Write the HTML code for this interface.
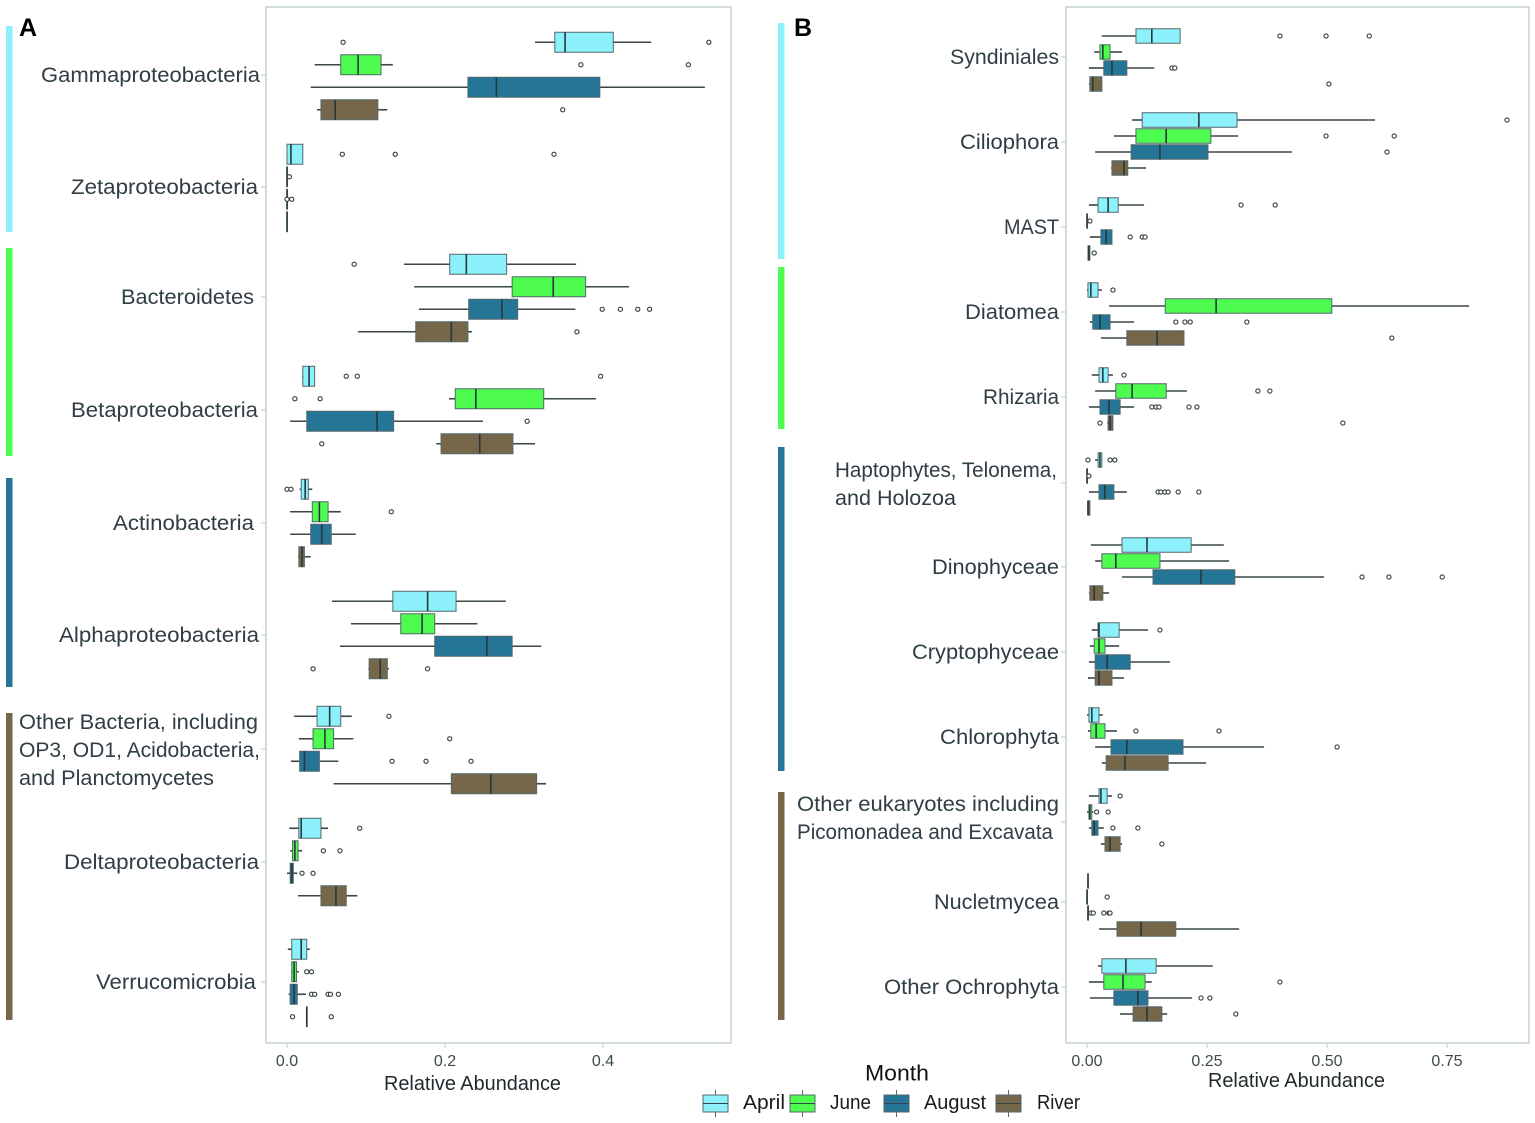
<!DOCTYPE html>
<html lang="en">
<head>
<meta charset="utf-8">
<title>Relative abundance by month</title>
<style>
html,body{margin:0;padding:0;background:#fff;width:1535px;height:1123px;overflow:hidden}
svg{display:block;font-family:"Liberation Sans",sans-serif}
</style>
</head>
<body>
<svg id="chart" xmlns="http://www.w3.org/2000/svg" width="1535" height="1123" viewBox="0 0 1535 1123"></svg>
<script>
// ---------- Data: each row is [whiskerLow, q1, median, q3, whiskerHigh, [outliers]]
const months = ['April', 'June', 'August', 'River'];
const panelACategories = [['Gammaproteobacteria'], ['Zetaproteobacteria'], ['Bacteroidetes'], ['Betaproteobacteria'], ['Actinobacteria'], ['Alphaproteobacteria'], ['Other Bacteria, including', 'OP3, OD1, Acidobacteria,', 'and Planctomycetes'], ['Deltaproteobacteria'], ['Verrucomicrobia']];
const panelBCategories = [['Syndiniales'], ['Ciliophora'], ['MAST'], ['Diatomea'], ['Rhizaria'], ['Haptophytes, Telonema,', 'and Holozoa'], ['Dinophyceae'], ['Cryptophyceae'], ['Chlorophyta'], ['Other eukaryotes including', 'Picomonadea and Excavata'], ['Nucletmycea'], ['Other Ochrophyta']];
const panelATicks = ['0.0', '0.2', '0.4'];
const panelBTicks = ['0.00', '0.25', '0.50', '0.75'];

const gammaproteobacteria = [[.314,.339,.352,.413,.461,[.071,.534]],[.035,.068,.090,.119,.134,[.372,.508]],[.030,.229,.265,.396,.529,[]],[.038,.043,.061,.115,.127,[.349]]];
const zetaproteobacteria = [[.0,.0,.005,.020,.020,[.070,.137,.338]],[0,0,0,0,0,[.003]],[0,0,0,0,0,[.0,.006]],[0,0,0,0,0,[]]];
const bacteroidetes = [[.148,.206,.227,.278,.366,[.085]],[.161,.285,.337,.378,.433,[]],[.167,.230,.272,.292,.365,[.399,.422,.444,.459]],[.090,.163,.208,.229,.234,[.367]]];
const betaproteobacteria = [[.019,.020,.028,.035,.035,[.075,.089,.397]],[.205,.213,.239,.325,.391,[.010,.042]],[.004,.025,.114,.135,.248,[.304]],[.189,.195,.244,.286,.314,[.044]]];
const actinobacteria = [[.016,.018,.023,.027,.032,[.0,.005]],[.004,.032,.041,.052,.068,[.132]],[.004,.030,.044,.056,.087,[]],[.014,.015,.019,.022,.030,[]]];
const alphaproteobacteria = [[.057,.134,.178,.214,.277,[]],[.081,.144,.171,.187,.241,[]],[.067,.187,.253,.285,.322,[]],[.103,.104,.118,.127,.129,[.033,.178]]];
const otherBacteria = [[.009,.038,.054,.068,.082,[.129]],[.015,.033,.048,.059,.084,[.206]],[.005,.016,.022,.041,.065,[.133,.176,.233]],[.059,.208,.258,.316,.328,[]]];
const deltaproteobacteria = [[.003,.015,.018,.043,.052,[.092]],[.004,.007,.010,.014,.019,[.046,.067]],[.0,.004,.006,.008,.013,[.019,.033]],[.014,.043,.062,.075,.089,[]]];
const verrucomicrobia = [[.001,.006,.018,.025,.029,[]],[.005,.006,.009,.012,.015,[.025,.031]],[.002,.004,.009,.013,.024,[.031,.035,.052,.055,.065]],[.025,.025,.025,.025,.025,[.007,.056]]];
const panelAValues = [gammaproteobacteria, zetaproteobacteria, bacteroidetes, betaproteobacteria, actinobacteria, alphaproteobacteria, otherBacteria, deltaproteobacteria, verrucomicrobia];

const syndiniales = [[.031,.102,.135,.194,.194,[.402,.498,.588]],[.015,.027,.033,.048,.073,[]],[.004,.035,.052,.083,.140,[.177,.183]],[.004,.006,.012,.031,.031,[.504]]];
const ciliophora = [[.094,.115,.233,.3125,.60,[.875]],[.056,.102,.165,.258,.315,[.498,.64]],[.017,.092,.152,.252,.427,[.625]],[.05,.052,.077,.085,.123,[]]];
const mast = [[.004,.023,.044,.065,.119,[.321,.392]],[0,0,0,0,0,[.006]],[.006,.029,.04,.052,.052,[.09,.115,.121]],[.002,.002,.004,.006,.006,[.015]]];
const diatomea = [[.0,.002,.008,.023,.031,[.054]],[.046,.163,.269,.51,.796,[]],[.006,.012,.027,.048,.098,[.185,.204,.215,.333]],[.029,.083,.146,.202,.202,[.635]]];
const rhizaria = [[.01,.025,.033,.044,.054,[.077]],[.017,.06,.094,.165,.208,[.356,.381]],[.004,.027,.046,.069,.098,[.135,.144,.15,.2125,.229]],[.042,.044,.048,.054,.054,[.027,.533]]];
const haptophytes = [[.017,.023,.027,.031,.031,[.002,.048,.058]],[0,0,0,0,0,[.004]],[.004,.025,.037,.056,.083,[.148,.154,.162,.169,.19,.233]],[.002,.002,.002,.006,.006,[]]];
const dinophyceae = [[.008,.073,.125,.217,.285,[]],[.017,.031,.06,.152,.296,[]],[.073,.1375,.2375,.308,.494,[.573,.629,.74]],[.004,.006,.015,.033,.046,[]]];
const cryptophyceae = [[.01,.023,.025,.067,.127,[.152]],[.006,.015,.025,.0375,.067,[]],[.004,.017,.042,.09,.173,[]],[.002,.017,.025,.052,.077,[]]];
const chlorophyta = [[.0,.004,.01,.025,.033,[]],[.002,.008,.019,.0375,.0625,[.102,.275]],[.017,.05,.083,.2,.369,[.521]],[.031,.04,.079,.169,.248,[]]];
const otherEukaryotes = [[.004,.025,.029,.042,.052,[.069]],[.0,.004,.006,.01,.013,[.02,.044]],[.004,.01,.015,.023,.035,[.054,.106]],[.029,.0375,.048,.069,.073,[.156]]];
const nucletmycea = [[.002,.002,.002,.002,.002,[]],[0,0,0,0,0,[.042]],[.002,.002,.002,.002,.002,[.008,.013,.035,.046,.048]],[.025,.0625,.1125,.185,.317,[]]];
const otherOchrophyta = [[.023,.031,.081,.144,.262,[]],[.004,.035,.075,.121,.135,[.402]],[.006,.056,.106,.127,.219,[.2375,.256]],[.069,.096,.125,.156,.167,[.31]]];
const panelBValues = [syndiniales, ciliophora, mast, diatomea, rhizaria, haptophytes, dinophyceae, cryptophyceae, chlorophyta, otherEukaryotes, nucletmycea, otherOchrophyta];

// ---------- Layout (not data)
const monthColors = ['#8cf1fb', '#4dfc4f', '#247596', '#76664a'];
const panelABandCenters = [76, 188, 298, 410, 523, 635, 750, 862, 983];
const panelBBandCenters = [60, 144, 229, 314, 399, 484, 569, 654, 739, 820, 905, 990];
const panelALabelBoxes = [[[41,260,75]],[[71,258,187]],[[121,254,297]],[[71,258,410]],[[113,254,523]],[[59,259,635]],[[19,258,722],[19,260,750],[19,214,778]],[[64,259,862]],[[96,256,982]]];
const panelBLabelBoxes = [[[950,1059,57]],[[960,1059,142]],[[1004,1059,227]],[[965,1059,312]],[[983,1059,397]],[[835,1057,470],[835,956,498]],[[932,1059,567]],[[912,1059,652]],[[940,1059,737]],[[797,1059,804],[797,1053,832]],[[934,1059,902]],[[884,1059,987]]];
const panelATickY = [75, 187, 297, 410, 523, 635, 749, 862, 982];
const panelBTickY = [57, 142, 227, 312, 397, 483, 567, 652, 737, 822, 902, 987];

const svg = document.getElementById('chart');
const NS = 'http://www.w3.org/2000/svg';
const INK = '#3a4648';

function mk(tag, attrs, parent) {
  const el = document.createElementNS(NS, tag);
  for (const k in attrs) el.setAttribute(k, attrs[k]);
  parent.appendChild(el);
  return el;
}
function slug(s) { return s.toLowerCase().replace(/[^a-z0-9]+/g, '-').replace(/^-|-$/g, ''); }

function drawText(parent, str, x0, x1, cy, size, fill, name) {
  const t = mk('text', {x: x0, y: cy + size * 0.34, 'font-size': size, fill: fill, textLength: x1 - x0, lengthAdjust: 'spacingAndGlyphs'}, parent);
  
  
  t.textContent = str;
  return t;
}

function drawBox(parent, stat, xScale, y, h, color, name) {
  const g = mk('g', {}, parent);
  
  
  const lo = xScale(stat[0]), q1 = xScale(stat[1]), med = xScale(stat[2]), q3 = xScale(stat[3]), hi = xScale(stat[4]);
  const wl = mk('line', {x1: lo, x2: q1, y1: y, y2: y, stroke: INK, 'stroke-width': 1.6}, g);
  
  
  const wh = mk('line', {x1: q3, x2: hi, y1: y, y2: y, stroke: INK, 'stroke-width': 1.6}, g);
  
  
  const r = mk('rect', {x: q1, y: y - h / 2, width: Math.max(q3 - q1, 0.4), height: h, fill: color, stroke: '#55686c', 'stroke-width': 1}, g);
  
  
  const m = mk('line', {x1: med, x2: med, y1: y - h / 2, y2: y + h / 2, stroke: '#27383c', 'stroke-width': 1.6}, g);
  
  
  stat[5].forEach(function (v) {
    const c = mk('circle', {cx: xScale(v), cy: y, r: 2.1, fill: '#fff', stroke: '#333e41', 'stroke-width': 1.1}, g);
    
    
  });
}

function drawPanel(p) {
  const g = mk('g', {}, svg);
  
  
  const frame = mk('rect', {x: p.left, y: 7, width: p.right - p.left, height: 1036, fill: '#fff', stroke: '#c6d2d4', 'stroke-width': 1.5}, g);
  
  
  p.ticks.forEach(function (lab) {
    const v = parseFloat(lab), x = p.x(v);
    const tk = mk('line', {x1: x, x2: x, y1: 1043, y2: 1048, stroke: '#c6d2d4', 'stroke-width': 1.2}, g);
    
    
    const t = mk('text', {x: x, y: 1066, 'font-size': 16, fill: '#3c4a4e', 'text-anchor': 'middle'}, g);
    
    
    t.textContent = lab;
  });
  drawText(g, 'Relative Abundance', p.titleX[0], p.titleX[1], p.titleY, 20, '#1f2a2d', p.name + '-x-axis-title');
  p.categories.forEach(function (lines, i) {
    const catName = slug(lines[0]);
    lines.forEach(function (ln, j) {
      const b = p.boxes[i][j];
      drawText(g, ln, b[0], b[1], b[2], 21, '#2f3e44', 'category-label-' + catName + '-' + j);
    });
    const tk = mk('line', {x1: p.left - 5, x2: p.left, y1: p.tickY[i], y2: p.tickY[i], stroke: '#c6d2d4', 'stroke-width': 1.2}, g);
    
    
    p.values[i].forEach(function (stat, k) {
      const y = p.centers[i] + (k - 1.5) * p.step;
      drawBox(g, stat, p.x, y, p.boxH, monthColors[k], 'box-' + catName + '-' + months[k].toLowerCase());
    });
  });
}

drawPanel({name: 'panel-a', left: 266, right: 731, x: function (v) { return 287 + v * 790; }, ticks: panelATicks,
  titleX: [384, 561], titleY: 1083, categories: panelACategories, boxes: panelALabelBoxes, tickY: panelATickY,
  values: panelAValues, centers: panelABandCenters, step: 22.5, boxH: 20});
drawPanel({name: 'panel-b', left: 1066, right: 1529, x: function (v) { return 1087 + v * 480; }, ticks: panelBTicks,
  titleX: [1208, 1385], titleY: 1080, categories: panelBCategories, boxes: panelBLabelBoxes, tickY: panelBTickY,
  values: panelBValues, centers: panelBBandCenters, step: 16, boxH: 14.5});

// Group colour bars
const colorBars = [[6,26,232,0],[6,248,456,1],[6,478,687,2],[6,713,1020,3],[778,23,259,0],[778,267,429,1],[778,447,771,2],[778,792,1020,3]];
colorBars.forEach(function (b, i) {
  const r = mk('rect', {x: b[0], y: b[1], width: 6.5, height: b[2] - b[1], fill: monthColors[b[3]]}, svg);
  
  
});

// Panel letters
const letters = [['A', 19, 36], ['B', 794, 36]];
letters.forEach(function (l) {
  const t = mk('text', {x: l[1], y: l[2], 'font-size': 25, 'font-weight': 'bold', fill: '#000'}, svg);
  
  
  t.textContent = l[0];
});

// Legend
const legend = mk('g', {}, svg);


drawText(legend, 'Month', 865, 929, 1073, 22, '#111', 'legend-title');
const legendSwatchX = [703, 790, 884, 996];
const legendLabelX = [[743, 785], [830, 871], [924, 986], [1037, 1080]];
months.forEach(function (m, i) {
  const entry = mk('g', {}, legend);
  
  
  const x = legendSwatchX[i];
  const stem = mk('line', {x1: x + 12.5, x2: x + 12.5, y1: 1090, y2: 1117, stroke: '#55686c', 'stroke-width': 1}, entry);
  
  
  const r = mk('rect', {x: x, y: 1095, width: 25, height: 17, fill: monthColors[i], stroke: '#55686c', 'stroke-width': 1}, entry);
  
  
  const mid = mk('line', {x1: x, x2: x + 25, y1: 1103.5, y2: 1103.5, stroke: '#33474b', 'stroke-width': 1}, entry);
  
  
  drawText(entry, m, legendLabelX[i][0], legendLabelX[i][1], 1102, 20, '#1a1a1a', 'legend-label-' + m.toLowerCase());
});
</script>
</body>
</html>
